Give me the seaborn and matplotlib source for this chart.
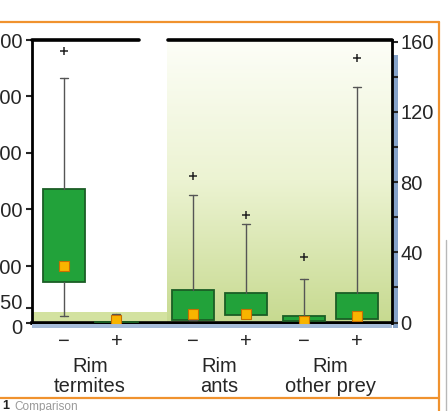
import numpy as np
import matplotlib
matplotlib.use("Agg")
import matplotlib.pyplot as plt
import matplotlib.transforms as mtransforms
from matplotlib.colors import LinearSegmentedColormap
from matplotlib.lines import Line2D
from matplotlib.patches import Rectangle
import seaborn as sns

# values
# first two boxes (termites) use the left axis, the other four the right axis
group_labels = ['Rim\ntermites', 'Rim\nants', 'Rim\nother prey']
sign_labels = ['\u2212', '+', '\u2212', '+', '\u2212', '+']
positions = [0, 1, 2.45, 3.45, 4.55, 5.55]

q1 = [715, 0, 1.7, 4.4, 0.6, 1.8]
q3 = [2356, 8, 18.7, 16.9, 3.5, 16.6]
centre = [996, 37, 5.1, 5.0, 0.8, 3.5]
whisker_low = [111, 0, 1.7, 4.4, 0.6, 1.8]
whisker_high = [4319, 143, 72.9, 56.3, 24.7, 134.4]
outliers = [[4814], [], [83.3], [61.5], [37.2], [151]]

left_ticks = [0, 250, 1000, 2000, 3000, 4000, 5000]
right_ticks = [0, 40, 80, 120, 160]

sns.set_theme(style="ticks")
plt.rcParams['font.family'] = ['Liberation Sans', 'DejaVu Sans']

box_green = '#22a23a'
box_edge = '#1b5e25'
marker_orange = '#f8b400'

fig = plt.figure(figsize=(4.48, 4.11), dpi=100)
ax = fig.add_axes([32 / 448, (411 - 322.5) / 411, 360 / 448, 282.5 / 411])
ax2 = ax.twinx()

xmin, xmax = -0.6, 6.22
green_start = 1.95

# green gradient panel behind the ants / other prey boxes
cmap = LinearSegmentedColormap.from_list('panel', ['#fdfef8', '#ecf3d2', '#c7da90'])
ax.imshow(np.linspace(0, 1, 256).reshape(-1, 1), cmap=cmap, aspect='auto',
          extent=(green_start, xmax, 0, 5000), zorder=0)
ax.add_patch(Rectangle((xmin, 0), green_start - xmin, 190, color='#d3e2a0', lw=0, zorder=0.5))


def summaries(idx):
    out = []
    for i in idx:
        out.append(dict(med=centre[i], mean=centre[i], q1=q1[i], q3=q3[i],
                        whislo=whisker_low[i], whishi=whisker_high[i], fliers=outliers[i]))
    return out


style = dict(
    widths=0.8, capwidths=0.15, patch_artist=True, showmeans=True, manage_ticks=False,
    boxprops=dict(facecolor=box_green, edgecolor=box_edge, linewidth=1.3),
    whiskerprops=dict(color='#555555', linewidth=1.0),
    capprops=dict(color='#555555', linewidth=1.0),
    medianprops=dict(linewidth=0),
    meanprops=dict(marker='s', markersize=6.5, markerfacecolor=marker_orange,
                   markeredgecolor='#c86e00', markeredgewidth=0.8),
    flierprops=dict(marker='+', markersize=6, markeredgecolor='#222222', markeredgewidth=1.1),
)

ax.bxp(summaries([0, 1]), positions=positions[:2], zorder=3, **style)
ax2.bxp(summaries([2, 3, 4, 5]), positions=positions[2:], zorder=3, **style)

ax.set_xlim(xmin, xmax)
ax.set_ylim(0, 5000)
ax2.set_ylim(0, 161)

# axes, ticks, labels
for side in ['top', 'right']:
    ax.spines[side].set_visible(False)
for side in ['top', 'left', 'bottom']:
    ax2.spines[side].set_visible(False)
ax.spines['left'].set_linewidth(2)
ax.spines['bottom'].set_linewidth(2.6)
ax2.spines['right'].set_linewidth(2)
for s in [ax.spines['left'], ax.spines['bottom'], ax2.spines['right']]:
    s.set_color('black')

ax.set_yticks(left_ticks, [str(t) for t in left_ticks])
ax.tick_params(axis='y', direction='out', length=4, width=1.5, labelsize=14.5, pad=3)
# the two lowest left labels sit close together: push them apart a little
ylabs = ax.get_yticklabels()
ylabs[0].set_transform(ylabs[0].get_transform() + mtransforms.ScaledTranslation(0, -3 / 72, fig.dpi_scale_trans))
ylabs[1].set_transform(ylabs[1].get_transform() + mtransforms.ScaledTranslation(0, 5 / 72, fig.dpi_scale_trans))

ax2.set_yticks(right_ticks, [str(t) for t in right_ticks])
ax2.set_yticks([20, 60, 100, 140], minor=True)
ax2.tick_params(axis='y', which='both', direction='out', length=4, width=1.5, labelsize=14.5, pad=2)

ax.set_xticks(positions, sign_labels)
ax.tick_params(axis='x', length=0, labelsize=14.5, pad=7)

group_centres = [(positions[0] + positions[1]) / 2, (positions[2] + positions[3]) / 2,
                 (positions[4] + positions[5]) / 2]
trans = mtransforms.blended_transform_factory(ax.transData, ax.transAxes)
for xc, lab in zip(group_centres, group_labels):
    ax.text(xc, -0.192, lab, transform=trans, ha='center', va='center',
            fontsize=14.5, linespacing=1.05)

# top frame with a gap over the panel edge
ax.plot([xmin, 1.42], [1, 1], transform=trans, color='black', lw=2.6, clip_on=False, zorder=5)
ax.plot([1.97, xmax], [1, 1], transform=trans, color='black', lw=2.6, clip_on=False, zorder=5)

# bluish shadow on the right and under the bottom
ax2.add_patch(Rectangle((1 + 1 / 360, -5 / 282.5), 5 / 360, 0.965, transform=ax2.transAxes,
                        color='#86a3c9', lw=0, clip_on=False, zorder=0.2))
ax2.add_patch(Rectangle((0, -5 / 282.5), 1, 4 / 282.5, transform=ax2.transAxes,
                        color='#a6bcd9', lw=0, clip_on=False, zorder=0.2))


# orange page frame and caption fragment
def px_line(x0, y0, x1, y1, color, lw):
    fig.add_artist(Line2D([x0 / 448, x1 / 448], [1 - y0 / 411, 1 - y1 / 411],
                          transform=fig.transFigure, color=color, lw=lw))


px_line(0, 22.5, 439, 22.5, '#f0922e', 1.6)
px_line(439, 22.5, 439, 411, '#f0922e', 1.6)
px_line(0, 398, 439, 398, '#f0922e', 1.6)
px_line(446, 240, 446, 411, '#b8b8b8', 1.0)
fig.text(2 / 448, 1 - 406 / 411, '1', fontsize=9, fontweight='bold', va='center', color='#222222')
fig.text(14 / 448, 1 - 407 / 411, 'Comparison', fontsize=8.5, va='center', color='#9a9a9a')

fig.savefig('out.png', dpi=100)
